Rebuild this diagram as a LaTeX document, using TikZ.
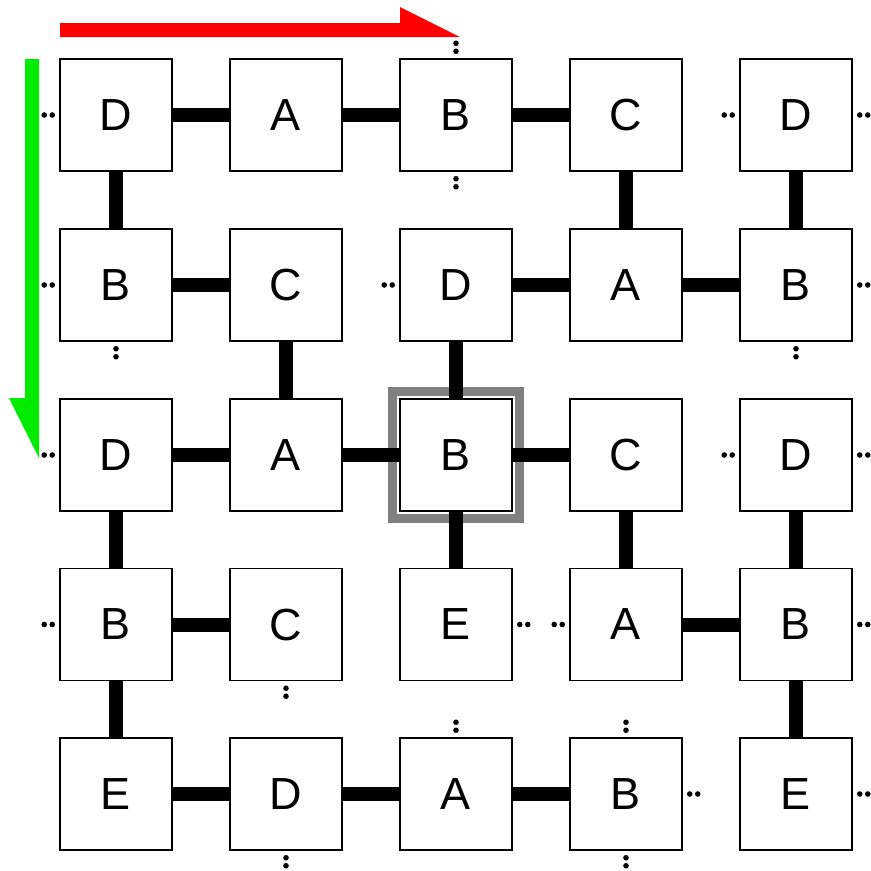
\documentclass[tikz,border=0pt]{standalone}
\usepackage{fontspec}
\setmainfont{Liberation Sans}
\definecolor{arrred}{RGB}{255,0,0}
\definecolor{arrgreen}{RGB}{0,235,0}
\definecolor{framegray}{RGB}{128,128,128}
\tikzset{
  cell/.style={draw=black, line width=1.5pt, fill=white, minimum size=112pt, inner sep=0pt,
    font=\fontsize{45}{45}\selectfont},
  link/.style={line width=14pt, black},
  dotst/.style={fill=black},
}
\newcommand\dotsW[1]{\fill[dotst] ([xshift=-7pt]#1.west) circle (2.8pt) ([xshift=-15pt]#1.west) circle (2.8pt);}
\newcommand\dotsE[1]{\fill[dotst] ([xshift=7pt]#1.east) circle (2.8pt) ([xshift=15pt]#1.east) circle (2.8pt);}
\newcommand\dotsN[1]{\fill[dotst] ([yshift=7pt]#1.north) circle (2.8pt) ([yshift=15pt]#1.north) circle (2.8pt);}
\newcommand\dotsS[1]{\fill[dotst] ([yshift=-7pt]#1.south) circle (2.8pt) ([yshift=-15pt]#1.south) circle (2.8pt);}
\begin{document}
\begin{tikzpicture}[x=1pt,y=-1pt]
\useasboundingbox (0,0) rectangle (871,871);
% arrows
\fill[arrred] (60,23) -- (400,23) -- (400,7) -- (460,37) -- (60,37) -- cycle;
\fill[arrgreen] (25,59) -- (39,59) -- (39,458) -- (9,398) -- (25,398) -- cycle;
% highlight frame
\draw[framegray, line width=9pt] (392.5,391.5) rectangle (519.5,518.5);
% cells
\node[cell] (n00) at (116,115) {D};
\node[cell] (n01) at (286,115) {A};
\node[cell] (n02) at (456,115) {B};
\node[cell] (n03) at (626,115) {C};
\node[cell] (n04) at (796,115) {D};
\node[cell] (n10) at (116,285) {B};
\node[cell] (n11) at (286,285) {C};
\node[cell] (n12) at (456,285) {D};
\node[cell] (n13) at (626,285) {A};
\node[cell] (n14) at (796,285) {B};
\node[cell] (n20) at (116,455) {D};
\node[cell] (n21) at (286,455) {A};
\node[cell] (n22) at (456,455) {B};
\node[cell] (n23) at (626,455) {C};
\node[cell] (n24) at (796,455) {D};
\node[cell] (n30) at (116,624.5) {B};
\node[cell] (n31) at (286,624.5) {C};
\node[cell] (n32) at (456,624.5) {E};
\node[cell] (n33) at (626,624.5) {A};
\node[cell] (n34) at (796,624.5) {B};
\node[cell] (n40) at (116,794) {E};
\node[cell] (n41) at (286,794) {D};
\node[cell] (n42) at (456,794) {A};
\node[cell] (n43) at (626,794) {B};
\node[cell] (n44) at (796,794) {E};
% horizontal links
\draw[link] (n00) -- (n01);
\draw[link] (n01) -- (n02);
\draw[link] (n02) -- (n03);
\draw[link] (n10) -- (n11);
\draw[link] (n12) -- (n13);
\draw[link] (n13) -- (n14);
\draw[link] (n20) -- (n21);
\draw[link] (n21) -- (n22);
\draw[link] (n22) -- (n23);
\draw[link] (n30) -- (n31);
\draw[link] (n33) -- (n34);
\draw[link] (n40) -- (n41);
\draw[link] (n41) -- (n42);
\draw[link] (n42) -- (n43);
% vertical links
\draw[link] (n00) -- (n10);
\draw[link] (n20) -- (n30);
\draw[link] (n30) -- (n40);
\draw[link] (n11) -- (n21);
\draw[link] (n12) -- (n22);
\draw[link] (n22) -- (n32);
\draw[link] (n03) -- (n13);
\draw[link] (n23) -- (n33);
\draw[link] (n04) -- (n14);
\draw[link] (n24) -- (n34);
\draw[link] (n34) -- (n44);
% dangling ends
\dotsW{n00} \dotsW{n10} \dotsW{n20} \dotsW{n30}
\dotsE{n04} \dotsE{n14} \dotsE{n24} \dotsE{n34} \dotsE{n44}
\dotsW{n04} \dotsW{n12} \dotsW{n24} \dotsE{n32} \dotsW{n33} \dotsE{n43}
\dotsN{n02} \dotsS{n02} \dotsS{n10} \dotsS{n14} \dotsS{n31}
\dotsN{n42} \dotsN{n43} \dotsS{n41} \dotsS{n43}
\end{tikzpicture}
\end{document}
